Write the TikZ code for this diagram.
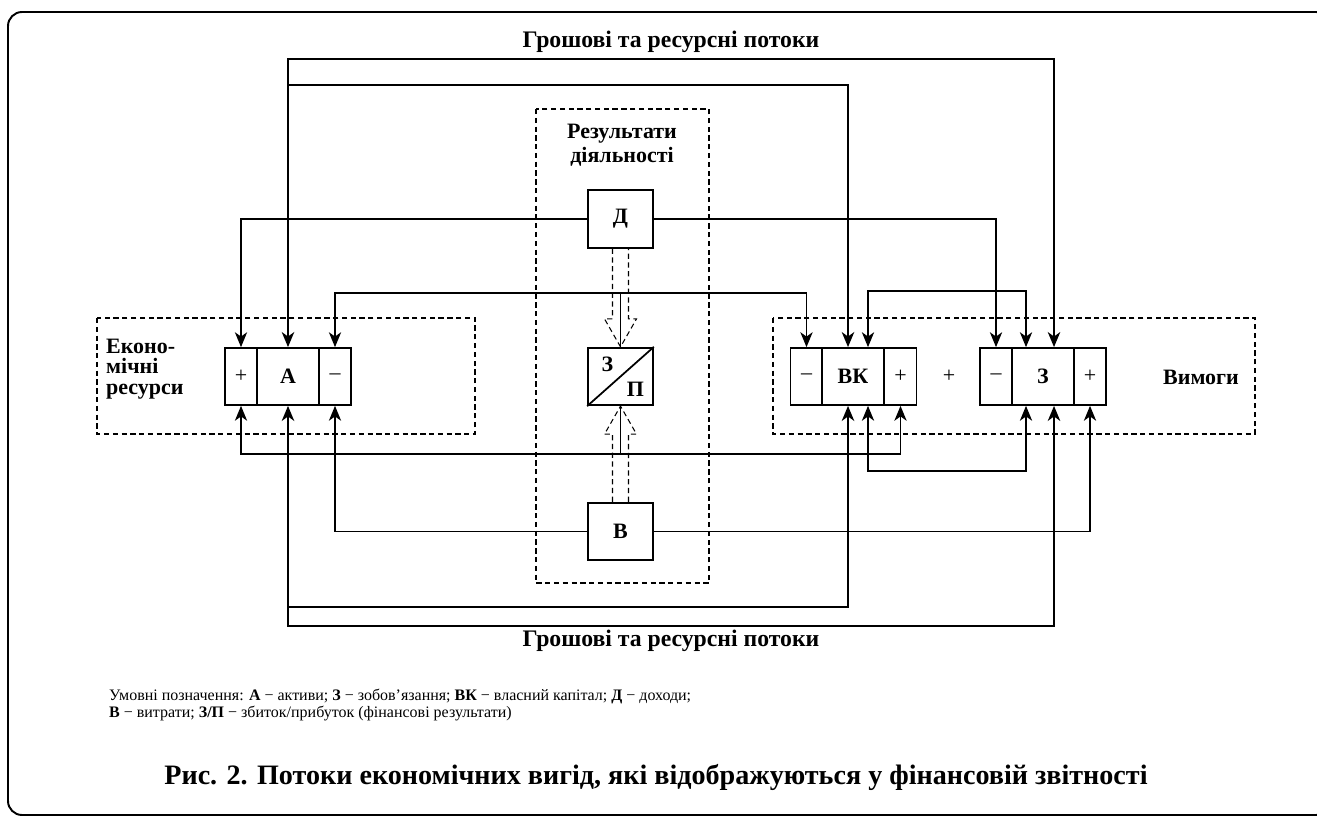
\documentclass[tikz,border=0pt]{standalone}
\usepackage{fontspec}
\setmainfont{Liberation Serif}
\usetikzlibrary{calc,arrows.meta}
\tikzset{cell/.style={draw,line width=1pt,minimum height=1.14cm,inner sep=0pt,font=\fontsize{12.5}{14}\selectfont}}
\tikzset{pcell/.style={cell,minimum width=0.64cm}}
\tikzset{bcell/.style={cell,minimum width=1.24cm,font=\fontsize{12.5}{14}\selectfont\bfseries}}
\tikzset{rbox/.style={draw,line width=1pt,minimum width=1.3cm,minimum height=1.15cm,inner sep=0pt,font=\fontsize{12.5}{14}\selectfont\bfseries}}
\tikzset{zone/.style={draw,dash pattern=on 3pt off 2pt,line width=0.6pt}}
\tikzset{flow/.style={line width=0.7pt}}
\tikzset{money/.style={line width=1.5pt}}
\tikzset{lbl/.style={font=\fontsize{12.5}{14}\selectfont\bfseries}}

\begin{document}
\begin{tikzpicture}[x=0.02cm,y=-0.02cm,>={Stealth[length=8.5pt,width=7pt,inset=2.5pt]}]
  \useasboundingbox (0,0) rectangle (1317,820);
  \draw[line width=1.1pt,rounded corners=8pt] (8,12) rectangle (1330,815);

  % dashed zones
  \draw[zone] (97,318) rectangle (475,434);
  \draw[zone] (773,318) rectangle (1255,434);
  \draw[zone] (536,109) rectangle (709,583);

  % balance cells
  \node[pcell] (Ap) at (241,376.5) {+};
  \node[bcell] (A) at (288,376.5) {А};
  \node[pcell] (Am) at (335,376.5) {–};
  \node[pcell] (VKm) at (806.5,376.5) {–};
  \node[bcell] (VK) at (853,376.5) {ВК};
  \node[pcell] (VKp) at (900.5,376.5) {+};
  \node[pcell] (Zm) at (996,376.5) {–};
  \node[bcell] (Z) at (1043,376.5) {З};
  \node[pcell] (Zp) at (1090,376.5) {+};
  \node[font=\fontsize{12.5}{14}\selectfont] (plus) at (949,376.5) {+};

  % results
  \node[rbox] (D) at (620.5,219) {Д};
  \node[rbox] (ZP) at (620.5,376.5) {};
  \node[rbox] (B) at (620.5,531.5) {В};
  \draw[line width=1pt] (ZP.south west) -- (ZP.north east);
  \node[lbl] (ZPz) at ($(ZP.center)+(-13,-12)$) {З};
  \node[lbl] (ZPp) at ($(ZP.center)+(15,13)$) {П};

  % labels
  \node[lbl,font=\fontsize{13.5}{15}\selectfont\bfseries] (gtop) at (671,42) {Грошові та ресурсні потоки};
  \node[lbl,font=\fontsize{13.5}{15}\selectfont\bfseries] (gbot) at (671,641) {Грошові та ресурсні потоки};
  \node[lbl,align=left,anchor=west,font=\fontsize{12.5}{11.5}\selectfont\bfseries] (econ) at (100,369) {Еконо-\\мічні\\ресурси};
  \node[lbl] (req) at (1201,377) {Вимоги};
  \node[lbl,align=center,font=\fontsize{12.5}{13.6}\selectfont\bfseries] (res) at (622,145) {Результати\\діяльності};

  % helper rows
  \coordinate (topO) at (0,59);
  \coordinate (topI) at (0,85);
  \coordinate (botI) at (0,607);
  \coordinate (botO) at (0,626);
  \coordinate (rowT) at (0,293);
  \coordinate (rowT2) at (0,291);
  \coordinate (rowB) at (0,454);
  \coordinate (rowB2) at (0,471);
  \coordinate (vkT) at ($(VK.north)+(-5,0)$);
  \coordinate (vkT2) at ($(VK.north)+(15,0)$);
  \coordinate (zT) at ($(Z.north)+(11,0)$);
  \coordinate (zT2) at ($(Z.north)+(-17,0)$);
  \coordinate (vkB) at ($(VK.south)+(-5,0)$);
  \coordinate (vkB2) at ($(VK.south)+(15,0)$);
  \coordinate (zB) at ($(Z.south)+(11,0)$);
  \coordinate (zB2) at ($(Z.south)+(-17,0)$);

  % money and resource flows
  \draw[money,<->] (A.north) -- (A.north |- topO) -| (zT);
  \draw[money,->] (A.north |- topI) -| (vkT);
  \draw[money,<->] (A.south) -- (A.south |- botO) -| (zB);
  \draw[money,->] (A.south |- botI) -| (vkB);

  % thin flows
  \draw[flow,->] (D.west) -| (Ap.north);
  \draw[flow,->] (D.east) -| (Zm.north);
  \draw[flow,->] (B.west) -| (Am.south);
  \draw[flow,->] (B.east) -| (Zp.south);
  \draw[flow,<->] (Am.north) -- (Am.north |- rowT) -| (VKm.north);
  \draw[flow] (ZP.north |- rowT) -- (ZP.north);
  \draw[flow,<->] (Ap.south) -- (Ap.south |- rowB) -| (VKp.south);
  \draw[flow] (ZP.south |- rowB) -- (ZP.south);
  \draw[flow,<->] (vkT2) -- (vkT2 |- rowT2) -| (zT2);
  \draw[flow,<->] (vkB2) -- (vkB2 |- rowB2) -| (zB2);

  % hollow dashed arrows
  \draw[zone] ($(D.south)+(-8,0)$) -- ($(ZP.north)+(-8,-28)$) -- ($(ZP.north)+(-16,-28)$)
    -- (ZP.north) -- ($(ZP.north)+(16,-28)$) -- ($(ZP.north)+(8,-28)$) -- ($(D.south)+(8,0)$);
  \draw[zone] ($(B.north)+(-8,0)$) -- ($(ZP.south)+(-8,28)$) -- ($(ZP.south)+(-16,28)$)
    -- (ZP.south) -- ($(ZP.south)+(16,28)$) -- ($(ZP.south)+(8,28)$) -- ($(B.north)+(8,0)$);

  % legend and caption
  \node[anchor=north west,align=left,font=\fontsize{9.1}{9.6}\selectfont] (legend) at (103,683)
    {Умовні позначення: \textbf{А} − активи; \textbf{З} − зобов’язання; \textbf{ВК} − власний капітал; \textbf{Д} − доходи;\\
     \textbf{В} − витрати; \textbf{З/П} − збиток/прибуток (фінансові результати)};
  \node[lbl,font=\fontsize{16}{18}\selectfont\bfseries] (title) at (656,777)
    {Рис. 2. Потоки економічних вигід, які відображуються у фінансовій звітності};
\end{tikzpicture}
\end{document}
